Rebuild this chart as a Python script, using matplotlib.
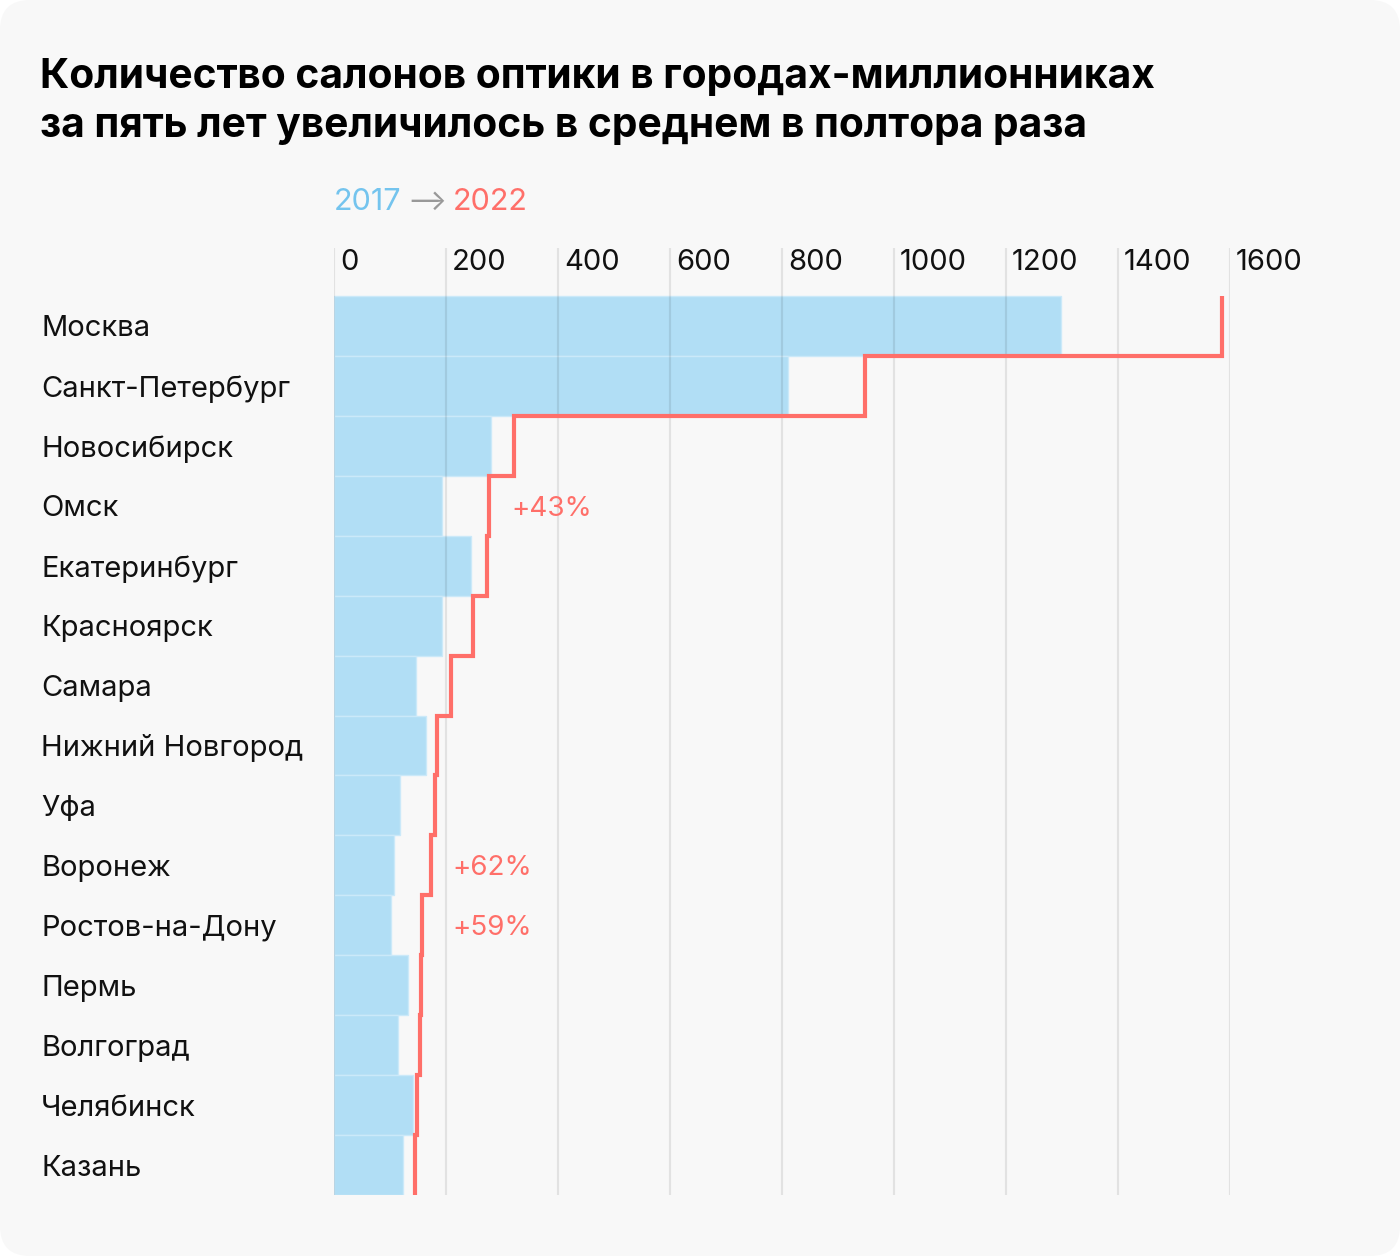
import matplotlib
matplotlib.use("Agg")
import matplotlib.pyplot as plt
from matplotlib.patches import FancyBboxPatch
from matplotlib.transforms import offset_copy

cities = ["Москва", "Санкт-Петербург", "Новосибирск", "Омск", "Екатеринбург",
          "Красноярск", "Самара", "Нижний Новгород", "Уфа", "Воронеж",
          "Ростов-на-Дону", "Пермь", "Волгоград", "Челябинск", "Казань"]
v2017 = [1299, 811, 280, 193, 244, 193, 146, 165, 117, 107, 101, 133, 115, 141, 124]
v2022 = [1585, 948, 321, 276, 274, 249, 209, 184, 180, 174, 158, 155, 153, 149, 144]
tick_values = [0, 200, 400, 600, 800, 1000, 1200, 1400, 1600]
notes_city = ["Омск", "Воронеж", "Ростов-на-Дону"]
notes_text = ["+43%", "+62%", "+59%"]
notes_x = [316, 212, 212]

title_lines = ["Количество салонов оптики в городах-миллионниках",
               "за пять лет увеличилось в среднем в полтора раза"]

W, H = 1400, 1256
BG = "#f8f8f8"
BLUE = "#b1def5"
RED = "#ff6f69"
FONT = ["Inter", "DejaVu Sans"]

fig = plt.figure(figsize=(W / 100, H / 100), dpi=100)
fig.patch.set_facecolor("white")
panel = FancyBboxPatch((0, 0), W, H, boxstyle="round,pad=0,rounding_size=30",
                       transform=None, facecolor=BG, edgecolor="none", zorder=-10)
fig.patches.append(panel)

def fx(px):
    return px / W

def fy(py):
    return 1 - py / H

# axes area: x 334..1230, y 248..1195
ax_top, ax_bot = 248, 1195
ax = fig.add_axes([fx(334), fy(ax_bot), fx(1230) - fx(334), fy(ax_top) - fy(ax_bot)])
ax.set_facecolor("none")
n = len(cities)
row_px = (ax_bot - 296) / n
extra = (296 - ax_top) / row_px
ax.set_xlim(0, 1600)
ax.set_ylim(n - 0.5, -0.5 - extra)
for s in ax.spines.values():
    s.set_visible(False)
ax.set_xticks([])
ax.set_yticks([])

ypos = list(range(n))
ax.barh(ypos, v2017, height=1.0, color=BLUE, edgecolor="#cbe9f9", linewidth=1.0, zorder=1)

for t in tick_values:
    ax.axvline(t, color="black", alpha=0.085, lw=1.6, zorder=2)
    ax.text(t, -0.5 - extra / 2, str(t),
            transform=offset_copy(ax.transData, fig=fig, x=6, y=9, units="dots"),
            ha="left", va="center", fontsize=21, family=FONT, color="#111111", zorder=5)

# step line for 2022
xs, ys = [], []
for i, v in enumerate(v2022):
    xs += [v, v]
    ys += [i - 0.5, i + 0.5]
ax.plot(xs, ys, color=RED, lw=3.0, solid_joinstyle="miter", solid_capstyle="butt", zorder=4)

for c, t, x in zip(notes_city, notes_text, notes_x):
    ax.text(x, cities.index(c), t, ha="left", va="center", fontsize=20,
            family=FONT, color=RED, zorder=5,
            transform=offset_copy(ax.transData, fig=fig, x=0, y=-3, units="dots"))

# city labels
for i, c in enumerate(cities):
    yc = 296 + row_px * (i + 0.5) + 3
    fig.text(fx(41), fy(yc), c, ha="left", va="center", fontsize=21,
             family=FONT, color="#111111")

# title
fig.text(fx(40), fy(88), title_lines[0], ha="left", va="baseline", fontsize=29.3,
         family=FONT, weight="bold", color="black")
fig.text(fx(40), fy(137), title_lines[1], ha="left", va="baseline", fontsize=29.3,
         family=FONT, weight="bold", color="black")

# legend 2017 -> 2022
t1 = fig.text(fx(334), fy(210), "2017", ha="left", va="baseline", fontsize=22,
              family=FONT, color="#74c4ee")
fig.canvas.draw()
bb = t1.get_window_extent()
t2 = fig.text(fx(bb.x1 + 6), fy(210), "⟶", ha="left", va="baseline", fontsize=21,
              family=FONT, color="#999999")
fig.canvas.draw()
bb2 = t2.get_window_extent()
fig.text(fx(bb2.x1 + 6), fy(210), "2022", ha="left", va="baseline", fontsize=22,
         family=FONT, color=RED)

fig.savefig("out.png", dpi=100, facecolor="white")
